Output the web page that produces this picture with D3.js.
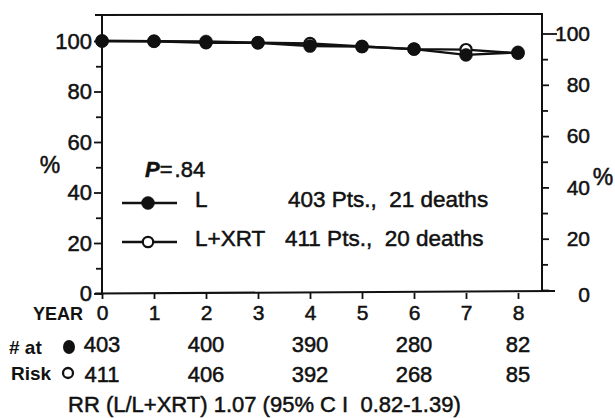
<!DOCTYPE html>
<html>
<head>
<meta charset="utf-8">
<script src="https://cdn.jsdelivr.net/npm/d3@7"></script>
<style>
  body { margin:0; background:#fff; }
  svg text { font-family:"Liberation Sans", Arial, sans-serif; fill:#111; white-space:pre; }
</style>
</head>
<body>
<svg id="canvas" width="615" height="418"></svg>
<script>
// survival (%) by year
var years   = [0, 1, 2, 3, 4, 5, 6, 7, 8];
var survL   = [100, 99.9, 99.8, 99.3, 98.0, 97.8, 96.8, 94.5, 95.5];
var survLX  = [100, 99.9, 99.3, 99.3, 99.0, 97.8, 96.8, 96.6, 95.1];

// numbers at risk
var riskYears = [0, 2, 4, 6, 8];
var riskL     = [403, 400, 390, 280, 82];
var riskLX    = [411, 406, 392, 268, 85];

var yTicks      = [0, 20, 40, 60, 80, 100];
var yMinorTicks = [10, 30, 50, 70, 90];

var legendRows = [
  { name:"L",     stats:"403 Pts.,  21 deaths", filled:true },
  { name:"L+XRT", stats:"411 Pts.,  20 deaths", filled:false }
];

var svg = d3.select("#canvas");

var x  = d3.scaleLinear().domain([0, 8]).range([102, 518]);
var yL = d3.scaleLinear().domain([0, 100]).range([293.5, 41]);
var yR = d3.scaleLinear().domain([0, 100]).range([290, 33.5]);

var ink = "#111";
var SW = 0.5;   // slight stroke on text, the scan is heavy

// frame
var frame = svg.append("g").attr("stroke", ink).attr("stroke-width", 2).attr("fill", "none");
frame.append("line").attr("x1", 95).attr("x2", 543).attr("y1", 15).attr("y2", 14);
frame.append("line").attr("x1", x(0)).attr("x2", x(0)).attr("y1", 15).attr("y2", 294);
frame.append("line").attr("x1", 542).attr("x2", 542).attr("y1", 13).attr("y2", 291);
frame.append("line").attr("x1", 95).attr("x2", 555).attr("y1", 293.5).attr("y2", 291);

function styleAxis(g, size) {
  g.select(".domain").remove();
  g.selectAll("line").attr("stroke", ink).attr("stroke-width", 1.8);
  g.selectAll("text")
    .attr("fill", ink)
    .attr("stroke", ink).attr("stroke-width", SW)
    .style("font-size", size)
    .style("font-family", "'Liberation Sans', Arial, sans-serif");
}

// left axis
svg.append("g").attr("transform", "translate(" + x(0) + ",0)")
  .call(d3.axisLeft(yL).tickValues(yTicks).tickSize(8).tickPadding(2))
  .call(styleAxis, "22px");
svg.append("g").attr("transform", "translate(" + x(0) + ",0)")
  .call(d3.axisLeft(yL).tickValues(yMinorTicks).tickSize(6).tickFormat(""))
  .call(styleAxis, "22px");

// right axis
var rAx = svg.append("g").attr("transform", "translate(542,0)")
  .call(d3.axisRight(yR).tickValues(yTicks).tickSize(7).tickPadding(4))
  .call(styleAxis, "21px");
rAx.selectAll("text").attr("text-anchor", "end").attr("x", 48);
rAx.selectAll(".tick").filter(function(d) { return d == 100; }).select("line").attr("x2", 15);
rAx.selectAll(".tick").filter(function(d) { return d == 0; }).select("text").attr("dy", "0.55em");
svg.append("g").attr("transform", "translate(542,0)")
  .call(d3.axisRight(yR).tickValues(yMinorTicks).tickSize(6).tickFormat(""))
  .call(styleAxis, "21px");

// bottom axis
var bAx = svg.append("g").attr("transform", "translate(0,293)")
  .call(d3.axisBottom(x).tickValues(years).tickSize(6).tickFormat(d3.format("d")))
  .call(styleAxis, "21px");
bAx.selectAll("text").attr("y", 27).attr("dy", null);

svg.append("text").attr("x", 83).attr("y", 320).attr("text-anchor", "end")
  .style("font-size", "18px").style("font-weight", "bold").text("YEAR");

// axis % labels
svg.append("text").attr("x", 50).attr("y", 173).attr("text-anchor", "middle")
  .attr("stroke", ink).attr("stroke-width", SW).style("font-size", "23px").text("%");
svg.append("text").attr("x", 603).attr("y", 185).attr("text-anchor", "middle")
  .attr("stroke", ink).attr("stroke-width", SW).style("font-size", "23px").text("%");

// curves
var line = d3.line().x(function(d) { return x(d[0]); }).y(function(d) { return yL(d[1]); });

function drawSeries(vals, filled) {
  var pts = years.map(function(yr, i) { return [yr, vals[i]]; });
  svg.append("path").datum(pts)
    .attr("d", line)
    .attr("fill", "none").attr("stroke", ink).attr("stroke-width", 2.4);
  svg.append("g").selectAll("circle").data(pts).enter()
    .append("circle")
      .attr("cx", function(d) { return x(d[0]); })
      .attr("cy", function(d) { return yL(d[1]); })
      .attr("r", filled ? 6.5 : 5.6)
      .attr("fill", filled ? ink : "#fff")
      .attr("stroke", ink)
      .attr("stroke-width", filled ? 0.5 : 2.2);
}
drawSeries(survLX, false);
drawSeries(survL, true);

// legend
svg.append("text").attr("x", 145).attr("y", 177)
  .attr("stroke", ink).attr("stroke-width", SW).style("font-size", "22px")
  .call(function(t) {
    t.append("tspan").style("font-style", "italic").style("font-weight", "bold").text("P");
    t.append("tspan").text("=");
    t.append("tspan").attr("dx", 2).text(".84");
  });

var leg = svg.append("g").selectAll("g").data(legendRows).enter()
  .append("g")
  .attr("transform", function(d, i) { return "translate(0," + (203 + i * 39) + ")"; });
leg.append("line").attr("x1", 122).attr("x2", 177)
  .attr("stroke", ink).attr("stroke-width", 2.4);
leg.append("circle").attr("cx", 148).attr("r", function(d) { return d.filled ? 6.5 : 5.2; })
  .attr("fill", function(d) { return d.filled ? ink : "#fff"; })
  .attr("stroke", ink).attr("stroke-width", function(d) { return d.filled ? 0.5 : 2.2; });
leg.append("text").attr("x", 195).attr("y", 4)
  .attr("stroke", ink).attr("stroke-width", SW).style("font-size", "22.5px")
  .text(function(d) { return d.name; });
leg.append("text").attr("x", function(d, i) { return i ? 285 : 288; }).attr("y", 4)
  .attr("stroke", ink).attr("stroke-width", SW).style("font-size", "22.5px")
  .text(function(d) { return d.stats; });

// numbers at risk
svg.append("text").attr("x", 9).attr("y", 354)
  .style("font-size", "19px").style("font-weight", "bold").text("# at");
svg.append("text").attr("x", 11).attr("y", 380)
  .style("font-size", "19px").style("font-weight", "bold").text("Risk");
svg.append("ellipse").attr("cx", 69).attr("cy", 347).attr("rx", 6).attr("ry", 7).attr("fill", ink);
svg.append("circle").attr("cx", 68).attr("cy", 373).attr("r", 5).attr("fill", "none")
  .attr("stroke", ink).attr("stroke-width", 2.3);

[riskL, riskLX].forEach(function(row, r) {
  svg.append("g").selectAll("text").data(row).enter()
    .append("text")
      .attr("x", function(d, i) { return x(riskYears[i]); })
      .attr("y", 352 + r * 30)
      .attr("text-anchor", "middle")
      .attr("stroke", ink).attr("stroke-width", SW)
      .style("font-size", "22px")
      .text(function(d) { return d; });
});

svg.append("text").attr("x", 68).attr("y", 412)
  .attr("stroke", ink).attr("stroke-width", SW).style("font-size", "22px")
  .text("RR (L/L+XRT) 1.07 (95% C I  0.82-1.39)");
</script>
</body>
</html>
